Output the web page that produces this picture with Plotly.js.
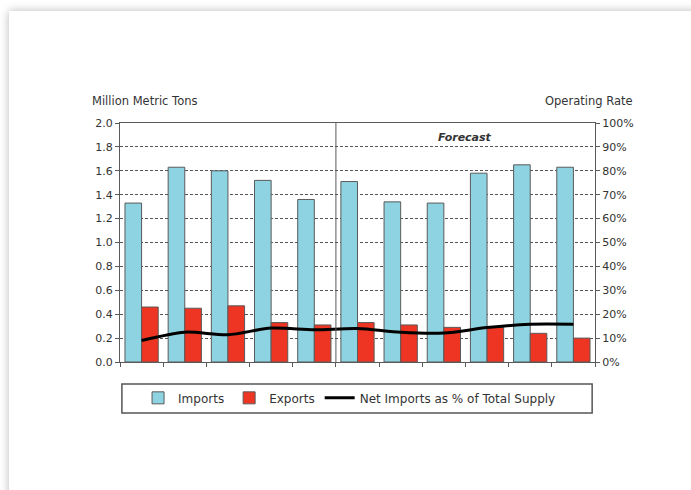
<!DOCTYPE html>
<html>
<head>
<meta charset="utf-8">
<script src="https://cdn.plot.ly/plotly-3.0.1.min.js"></script>
<style>
  html, body { margin: 0; padding: 0; background: #ffffff; width: 691px; height: 490px; overflow: hidden; }
  #card { position: absolute; left: 9px; top: 11px; width: 720px; height: 520px; background: #ffffff;
          box-shadow: 0 0 9px rgba(0,0,0,0.28); }
  #chart { position: absolute; left: 0; top: 0; width: 691px; height: 490px; }
</style>
</head>
<body>
<div id="card"></div>
<div id="chart"></div>
<script>
// Periods (no labels shown in the original chart)
const categories = ["P1", "P2", "P3", "P4", "P5", "P6", "P7", "P8", "P9", "P10", "P11"];
// Million metric tons
const imports = [1.33, 1.63, 1.60, 1.52, 1.36, 1.51, 1.34, 1.33, 1.58, 1.65, 1.63];
const exports = [0.46, 0.45, 0.47, 0.33, 0.31, 0.33, 0.31, 0.29, 0.29, 0.24, 0.20];
// Net imports as share of total supply (right axis)
const netImportsShare = [0.09, 0.125, 0.114, 0.142, 0.135, 0.14, 0.124, 0.121, 0.144, 0.158, 0.158];
const forecastStartAfter = "P5";

const FONT = "DejaVu Sans, Liberation Sans, Arial, sans-serif";
const TXT = "#333333";
const AX = "#5a5a5a";

const traces = [
  { type: "bar", name: "Imports", x: categories, y: imports,
    marker: { color: "#8ed3e1", line: { color: "#5a5a5a", width: 1 } } },
  { type: "bar", name: "Exports", x: categories, y: exports,
    marker: { color: "#ee3422", line: { color: "#5a5a5a", width: 1 } } },
  { type: "scatter", mode: "lines", name: "Net Imports as % of Total Supply",
    x: categories, y: netImportsShare, yaxis: "y2",
    line: { color: "#000000", width: 3, shape: "spline", smoothing: 0.8 } }
];

const divIdx = categories.indexOf(forecastStartAfter) + 0.5;

const layout = {
  width: 691, height: 490,
  margin: { l: 120, r: 96, t: 123, b: 128 },
  paper_bgcolor: "rgba(0,0,0,0)",
  plot_bgcolor: "#ffffff",
  font: { family: FONT, size: 11, color: TXT },
  barmode: "group",
  bargap: 0.23,
  bargroupgap: 0,
  showlegend: true,
  legend: {
    orientation: "h", x: 0.038, xanchor: "left", y: -0.15, yanchor: "middle",
    font: { family: FONT, size: 12, color: TXT },
    itemwidth: 30,
    bgcolor: "rgba(0,0,0,0)", traceorder: "normal"
  },
  xaxis: {
    type: "category", showticklabels: false, tickson: "boundaries",
    ticks: "outside", ticklen: 4, tickcolor: AX,
    showline: true, linecolor: AX, linewidth: 1, mirror: true,
    showgrid: false, zeroline: false, fixedrange: true
  },
  yaxis: {
    range: [0, 2], dtick: 0.2, tickformat: ".1f",
    ticks: "outside", ticklen: 4, tickcolor: AX,
    showline: true, linecolor: AX, linewidth: 1,
    showgrid: true, gridcolor: "#555555", gridwidth: 1, griddash: "3px,2px",
    zeroline: false, tickfont: { family: FONT, size: 11, color: TXT }
  },
  yaxis2: {
    range: [0, 1], dtick: 0.1, tickformat: ".0%",
    overlaying: "y", side: "right",
    ticks: "outside", ticklen: 4, tickcolor: AX,
    showline: true, linecolor: AX, linewidth: 1,
    showgrid: false, zeroline: false, tickfont: { family: FONT, size: 11, color: TXT }
  },
  shapes: [
    { type: "line", xref: "x", yref: "paper", x0: divIdx, x1: divIdx, y0: 0, y1: 1,
      line: { color: AX, width: 1 } },
    { type: "rect", xref: "paper", yref: "paper", x0: 0.004, x1: 0.994, y0: -0.213, y1: -0.092,
      line: { color: "#555555", width: 1.5 }, fillcolor: "rgba(0,0,0,0)" }
  ],
  annotations: [
    { text: "Million Metric Tons", xref: "paper", yref: "paper", x: -0.063, y: 1.092,
      xanchor: "left", yanchor: "middle", showarrow: false, font: { family: FONT, size: 11.5, color: TXT } },
    { text: "Operating Rate", xref: "paper", yref: "paper", x: 1.084, y: 1.092,
      xanchor: "right", yanchor: "middle", showarrow: false, font: { family: FONT, size: 11.5, color: TXT } },
    { text: "<b><i>Forecast</i></b>", xref: "x", yref: "paper", x: 7.5, y: 1, yshift: -6,
      xanchor: "center", yanchor: "top", showarrow: false, font: { family: FONT, size: 11, color: TXT } }
  ]
};

Plotly.newPlot("chart", traces, layout, { displayModeBar: false, staticPlot: true });
</script>
</body>
</html>
